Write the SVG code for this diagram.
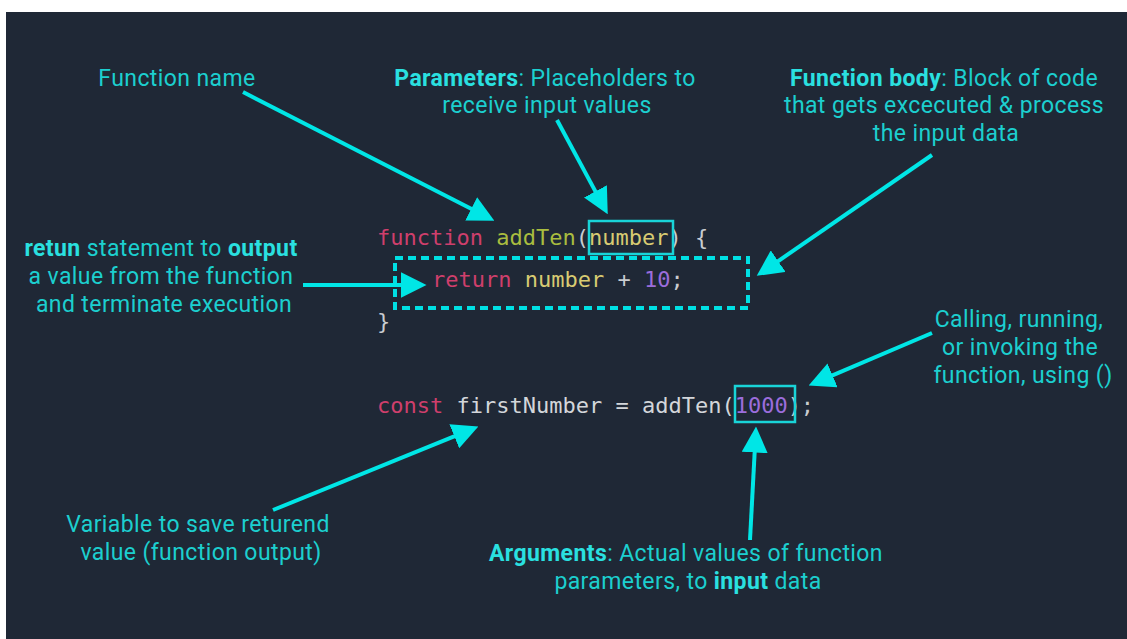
<svg xmlns="http://www.w3.org/2000/svg" width="1127" height="639" viewBox="0 0 1127 639">
<defs>
<style>
.lbl{font-family:Roboto,"Liberation Sans",sans-serif;font-size:23px;letter-spacing:0.4px;fill:#1cCfCf;text-anchor:middle}
.b{font-weight:bold;fill:#2ae0e0}
.code{font-family:"DejaVu Sans Mono","Liberation Mono",monospace;font-size:22px;fill:#c9ccd0}
.kw{fill:#cf3f6c}
.fn{fill:#a9bd3f}
.vr{fill:#d8cb72}
.nm{fill:#9b6ddc}
.id{fill:#d3d6da}
.arr{stroke:#00e6e6;stroke-width:4;fill:none;marker-end:url(#ah)}
.box{fill:none;stroke:#19d4d8;stroke-width:2.5}
.dash{fill:none;stroke:#00e0e4;stroke-width:4;stroke-dasharray:8 5}
</style>
<marker id="ah" markerUnits="userSpaceOnUse" markerWidth="26" markerHeight="26" refX="6" refY="12" orient="auto" viewBox="0 0 24 24">
<path d="M0,0 L24,12 L0,24 z" fill="#00e6e6"/>
</marker>
</defs>
<rect x="0" y="0" width="1127" height="639" fill="#ffffff"/>
<rect x="6" y="12" width="1121" height="627" fill="#1f2836"/>

<g id="code">
<text class="code" x="377" y="245"><tspan class="kw">function</tspan> <tspan class="fn">addTen</tspan>(<tspan class="vr">number</tspan>) {</text>
<text class="code" x="432" y="287"><tspan class="kw">return</tspan> <tspan class="vr">number</tspan> + <tspan class="nm">10</tspan>;</text>
<text class="code" x="377" y="329">}</text>
<text class="code" x="377" y="413"><tspan class="kw">const</tspan> <tspan class="id">firstNumber = addTen(</tspan><tspan class="nm">1000</tspan>);</text>
</g>

<g id="param-box"><rect class="box" x="589" y="221" width="84" height="33"/></g>
<g id="body-box"><rect class="dash" x="395" y="258" width="353" height="50"/></g>
<g id="arg-box"><rect class="box" x="735" y="386" width="60" height="36"/></g>

<g id="label-function-name">
<text class="lbl" x="177" y="86">Function name</text>
</g>
<g id="label-parameters">
<text class="lbl" x="545" y="86"><tspan class="b">Parameters</tspan>: Placeholders to</text>
<text class="lbl" x="547" y="113">receive input values</text>
</g>
<g id="label-function-body">
<text class="lbl" x="944" y="86"><tspan class="b">Function body</tspan>: Block of code</text>
<text class="lbl" x="944" y="113">that gets excecuted &amp; process</text>
<text class="lbl" x="946" y="141">the input data</text>
</g>
<g id="label-return">
<text class="lbl" x="161" y="256"><tspan class="b">retun</tspan> statement to <tspan class="b">output</tspan></text>
<text class="lbl" x="161" y="284">a value from the function</text>
<text class="lbl" x="164" y="312">and terminate execution</text>
</g>
<g id="label-calling">
<text class="lbl" x="1019" y="327">Calling, running,</text>
<text class="lbl" x="1020" y="355">or invoking the</text>
<text class="lbl" x="1023" y="383">function, using ()</text>
</g>
<g id="label-variable">
<text class="lbl" x="198" y="532">Variable to save returend</text>
<text class="lbl" x="201" y="560">value (function output)</text>
</g>
<g id="label-arguments">
<text class="lbl" x="686" y="561"><tspan class="b">Arguments</tspan>: Actual values of function</text>
<text class="lbl" x="688" y="589">parameters, to <tspan class="b">input</tspan> data</text>
</g>

<g id="connectors">
<line class="arr" x1="243" y1="92" x2="477" y2="211.8"/>
<line class="arr" x1="557" y1="120" x2="598.5" y2="197.1"/>
<line class="arr" x1="932" y1="155" x2="772.8" y2="264.8"/>
<line class="arr" x1="303" y1="285" x2="407" y2="285"/>
<line class="arr" x1="932" y1="333" x2="826.6" y2="377.9"/>
<line class="arr" x1="273" y1="510" x2="460.3" y2="433.8"/>
<line class="arr" x1="750" y1="540" x2="755" y2="446"/>
</g>
</svg>
